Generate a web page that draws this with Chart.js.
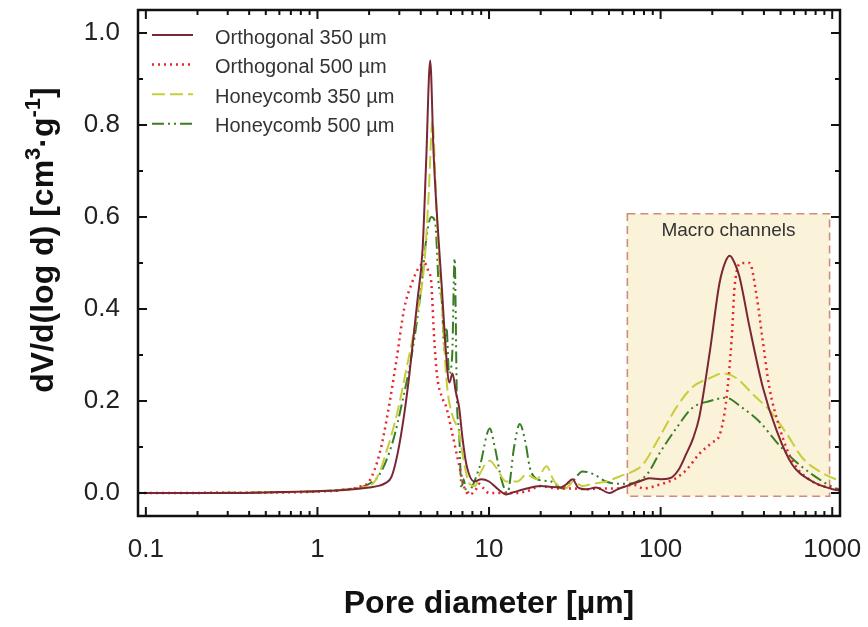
<!DOCTYPE html>
<html lang="en">
<head>
<meta charset="utf-8">
<title>Pore size distribution</title>
<script src="https://cdn.jsdelivr.net/npm/chart.js@4.4.1/dist/chart.umd.min.js"></script>
<style>
  html, body { margin: 0; padding: 0; background: #fff; }
</style>
</head>
<body>
<canvas id="gr" width="868" height="627"></canvas>
<script>
// pore diameter [um] / dV/d(log d)
const ortho350X = [0.09, 0.3, 0.6, 1.0, 1.5, 2.0, 2.3, 2.5, 2.7, 2.93, 3.2, 3.44, 3.83, 4.1, 4.3, 4.54, 4.75, 4.94, 5.3, 5.6, 5.87, 6.13, 6.4, 6.7, 7.0, 7.4, 8.2, 9.0, 10, 11.3, 12.6, 14, 16, 20, 23, 26, 28, 30.7, 33, 37, 42, 50.5, 56, 63, 75, 86, 100, 113, 127, 141, 155, 168, 194, 220, 240, 253, 270, 288, 330, 394, 475, 584, 766, 1010, 1110];
const ortho350Y = [0, 0, 0.002, 0.004, 0.007, 0.012, 0.016, 0.022, 0.035, 0.085, 0.17, 0.26, 0.42, 0.53, 0.72, 0.94, 0.74, 0.62, 0.45, 0.31, 0.24, 0.26, 0.22, 0.185, 0.12, 0.06, 0.025, 0.03, 0.025, 0.008, -0.003, 0.002, 0.008, 0.015, 0.013, 0.012, 0.018, 0.03, 0.012, 0.008, 0.012, 0.0, 0.008, 0.015, 0.025, 0.032, 0.03, 0.032, 0.05, 0.085, 0.12, 0.165, 0.31, 0.455, 0.505, 0.516, 0.5, 0.47, 0.36, 0.23, 0.135, 0.062, 0.025, 0.008, 0.005];

const ortho500X = [0.09, 0.5, 1.0, 1.5, 1.8, 2.0, 2.3, 2.56, 2.89, 3.2, 3.58, 3.9, 4.2, 4.45, 4.6, 4.8, 5.0, 5.3, 5.65, 6.1, 6.7, 7.2, 7.7, 8.3, 8.8, 9.3, 10, 12, 14.5, 17, 20, 25, 30, 38, 45, 55, 69, 80, 98, 120, 141, 168, 200, 220, 240, 260, 270, 297, 330, 362, 394, 430, 495, 585, 766, 1010, 1110];
const ortho500Y = [0, 0.001, 0.003, 0.008, 0.015, 0.025, 0.085, 0.17, 0.29, 0.40, 0.46, 0.49, 0.50, 0.48, 0.46, 0.33, 0.25, 0.21, 0.185, 0.13, 0.06, 0.01, -0.003, 0.005, 0.02, 0.01, 0.0, 0.0, 0.0, 0.005, 0.015, 0.01, 0.01, 0.008, 0.01, 0.01, 0.018, 0.01, 0.018, 0.03, 0.05, 0.085, 0.11, 0.125, 0.195, 0.34, 0.45, 0.50, 0.50, 0.43, 0.33, 0.23, 0.14, 0.07, 0.025, 0.01, 0.007];

const honey350X = [0.09, 0.5, 1.0, 1.5, 1.8, 2.1, 2.3, 2.5, 2.9, 3.3, 3.77, 4.2, 4.45, 4.68, 4.85, 5.0, 5.3, 5.5, 5.7, 6.1, 6.7, 7.0, 7.7, 8.3, 8.8, 10.1, 11, 12.6, 14.6, 16.5, 19, 21.6, 24, 28, 31, 35, 40, 48, 57.6, 69, 78, 98, 123, 153, 194, 230, 276, 344, 430, 540, 675, 845, 1050, 1110];
const honey350Y = [0, 0.001, 0.004, 0.008, 0.012, 0.02, 0.045, 0.085, 0.17, 0.27, 0.38, 0.50, 0.65, 0.81, 0.70, 0.57, 0.42, 0.31, 0.23, 0.17, 0.13, 0.085, 0.02, 0.015, 0.04, 0.07, 0.055, 0.025, 0.025, 0.04, 0.03, 0.058, 0.025, 0.01, 0.025, 0.015, 0.02, 0.025, 0.036, 0.047, 0.06, 0.12, 0.185, 0.23, 0.25, 0.26, 0.25, 0.215, 0.18, 0.13, 0.075, 0.047, 0.03, 0.028];

const honey500X = [0.09, 0.5, 1.0, 1.5, 2.0, 2.3, 2.74, 3.13, 3.58, 4.04, 4.3, 4.6, 4.85, 5.1, 5.3, 5.5, 5.65, 5.85, 6.1, 6.3, 6.5, 6.7, 6.9, 7.1, 7.4, 8.8, 10.1, 10.8, 11.8, 12.8, 14.0, 15.1, 16.3, 17.3, 19, 23, 26.8, 30.7, 35, 41, 48, 57, 63, 83, 98, 123, 153, 194, 240, 300, 377, 475, 585, 766, 1050, 1110];
const honey500Y = [0, 0.001, 0.004, 0.008, 0.02, 0.04, 0.11, 0.2, 0.31, 0.45, 0.55, 0.60, 0.59, 0.45, 0.42, 0.31, 0.36, 0.26, 0.3, 0.51, 0.2, 0.13, 0.01, 0.03, 0.0, 0.056, 0.14, 0.10, 0.03, 0.0, 0.1, 0.15, 0.11, 0.055, 0.03, 0.025, 0.01, 0.025, 0.047, 0.04, 0.025, 0.02, 0.02, 0.04, 0.085, 0.14, 0.185, 0.2, 0.207, 0.185, 0.155, 0.11, 0.075, 0.04, 0.01, 0.008];

const seriesNames = ['Orthogonal 350 \u00b5m', 'Orthogonal 500 \u00b5m', 'Honeycomb 350 \u00b5m', 'Honeycomb 500 \u00b5m'];
const xTicks = [0.1, 1, 10, 100, 1000];
const yTicks = [0, 0.2, 0.4, 0.6, 0.8, 1.0];
// shaded "Macro channels" region, in data units
const macroX = [64, 965];
const macroY = [-0.007, 0.607];

const FONT = '"Liberation Sans", Arial, sans-serif';

function pts(xs, ys) {
    return xs.map((x, i) => ({ x: x, y: ys[i] }));
}

// box behind the curves
const macroPlugin = {
    id: 'macro',
    beforeDatasetsDraw(chart) {
        const ctx = chart.ctx, sx = chart.scales.x, sy = chart.scales.y;
        const l = sx.getPixelForValue(macroX[0]), r = sx.getPixelForValue(macroX[1]);
        const t = sy.getPixelForValue(macroY[1]), b = sy.getPixelForValue(macroY[0]);
        ctx.save();
        ctx.fillStyle = '#fbf3d9';
        ctx.fillRect(l, t, r - l, b - t);
        ctx.strokeStyle = '#cf8c78';
        ctx.lineWidth = 1.6;
        ctx.setLineDash([8, 5]);
        ctx.strokeRect(l, t, r - l, b - t);
        ctx.setLineDash([]);
        ctx.fillStyle = '#333';
        ctx.font = '19px ' + FONT;
        ctx.textAlign = 'center';
        ctx.textBaseline = 'middle';
        ctx.fillText('Macro channels', (l + r) / 2, t + 17);
        ctx.restore();
    }
};

// closed frame with inward ticks on all four sides
const framePlugin = {
    id: 'frame',
    afterDatasetsDraw(chart) {
        const ctx = chart.ctx, a = chart.chartArea, sx = chart.scales.x, sy = chart.scales.y;
        ctx.save();
        ctx.strokeStyle = '#111';
        ctx.lineWidth = 2;
        ctx.beginPath();
        for (let e = -1; e <= 3; e++) {
            for (let k = 1; k <= 9; k++) {
                const v = k * Math.pow(10, e);
                if (v < sx.min || v > sx.max) continue;
                const px = sx.getPixelForValue(v);
                const len = k === 1 ? 9 : 5;
                ctx.moveTo(px, a.bottom); ctx.lineTo(px, a.bottom - len);
                ctx.moveTo(px, a.top); ctx.lineTo(px, a.top + len);
            }
        }
        for (let i = 0; i <= 10; i++) {
            const v = i / 10;
            const py = sy.getPixelForValue(v);
            const len = i % 2 === 0 ? 9 : 5;
            ctx.moveTo(a.left, py); ctx.lineTo(a.left + len, py);
            ctx.moveTo(a.right, py); ctx.lineTo(a.right - len, py);
        }
        ctx.stroke();
        ctx.lineWidth = 2.5;
        ctx.strokeRect(a.left, a.top, a.right - a.left, a.bottom - a.top);
        ctx.restore();
    }
};

// legend inside the plot, top left
const legendPlugin = {
    id: 'inLegend',
    afterDatasetsDraw(chart) {
        const ctx = chart.ctx, a = chart.chartArea;
        ctx.save();
        chart.data.datasets.forEach((ds, i) => {
            const y = a.top + 25 + i * 29.6;
            ctx.strokeStyle = ds.borderColor;
            ctx.lineWidth = ds.borderWidth;
            ctx.setLineDash(ds.borderDash || []);
            ctx.beginPath();
            ctx.moveTo(a.left + 14, y);
            ctx.lineTo(a.left + 55, y);
            ctx.stroke();
            ctx.setLineDash([]);
            ctx.fillStyle = '#333';
            ctx.font = '20px ' + FONT;
            ctx.textBaseline = 'middle';
            ctx.fillText(ds.label, a.left + 77, y + 3);
        });
        ctx.restore();
    }
};

// y title with real superscripts
const yTitlePlugin = {
    id: 'yTitle',
    afterDraw(chart) {
        const ctx = chart.ctx;
        const parts = [
            ['dV/d(log d) [cm', 32, 0],
            ['3', 22, -13],
            ['\u00b7g', 32, 0],
            ['-1', 22, -13],
            [']', 32, 0]
        ];
        ctx.save();
        let w = 0;
        parts.forEach(p => { ctx.font = 'bold ' + p[1] + 'px ' + FONT; w += ctx.measureText(p[0]).width; });
        ctx.translate(53, 240);
        ctx.rotate(-Math.PI / 2);
        ctx.fillStyle = '#111';
        ctx.textBaseline = 'alphabetic';
        let x = -w / 2;
        parts.forEach(p => {
            ctx.font = 'bold ' + p[1] + 'px ' + FONT;
            ctx.fillText(p[0], x, p[2]);
            x += ctx.measureText(p[0]).width;
        });
        ctx.restore();
    }
};

const ctx = document.getElementById('gr').getContext('2d');
new Chart(ctx, {
    type: 'line',
    data: {
        datasets: [
            { label: seriesNames[0], data: pts(ortho350X, ortho350Y), borderColor: '#7a2633', borderWidth: 2 },
            { label: seriesNames[1], data: pts(ortho500X, ortho500Y), borderColor: '#e8252b', borderWidth: 2.5, borderDash: [2, 4] },
            { label: seriesNames[2], data: pts(honey350X, honey350Y), borderColor: '#c6cf3a', borderWidth: 2, borderDash: [13, 5] },
            { label: seriesNames[3], data: pts(honey500X, honey500Y), borderColor: '#3a7d25', borderWidth: 2, borderDash: [12, 4, 2, 4, 2, 4] }
        ]
    },
    options: {
        responsive: false,
        animation: false,
        parsing: false,
        elements: { point: { radius: 0 }, line: { cubicInterpolationMode: 'monotone' } },
        layout: { padding: { top: 10, right: 28, left: 0, bottom: 0 } },
        plugins: { legend: { display: false }, tooltip: { enabled: false } },
        scales: {
            x: {
                type: 'logarithmic',
                min: 0.09,
                max: 1110,
                afterBuildTicks: s => { s.ticks = xTicks.map(v => ({ value: v })); },
                afterFit: s => { s.height = 111; s.paddingLeft = 0; s.paddingRight = 0; },
                grid: { display: false },
                border: { display: false },
                ticks: {
                    autoSkip: false, maxRotation: 0, padding: 10, color: '#222',
                    font: { family: FONT, size: 26 },
                    callback: v => String(v)
                },
                title: {
                    display: true, text: 'Pore diameter [\u00b5m]', color: '#111',
                    font: { family: FONT, size: 32, weight: 'bold' },
                    padding: { top: 0, bottom: 4 }
                }
            },
            y: {
                type: 'linear',
                min: -0.05,
                max: 1.05,
                afterBuildTicks: s => { s.ticks = yTicks.map(v => ({ value: v })); },
                afterFit: s => { s.width = 138; s.paddingTop = 0; s.paddingBottom = 0; },
                grid: { display: false },
                border: { display: false },
                ticks: {
                    padding: 10, color: '#222',
                    font: { family: FONT, size: 26 },
                    callback: v => v.toFixed(1)
                }
            }
        }
    },
    plugins: [macroPlugin, framePlugin, legendPlugin, yTitlePlugin]
});
</script>
</body>
</html>
